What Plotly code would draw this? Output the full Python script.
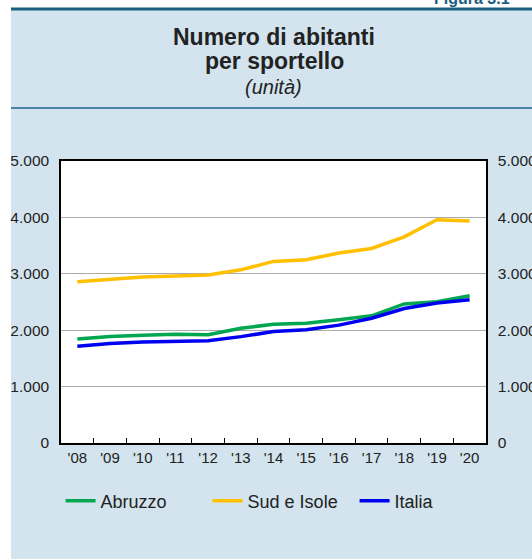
import plotly.graph_objects as go

# data
years = ["'08", "'09", "'10", "'11", "'12", "'13", "'14", "'15", "'16", "'17", "'18", "'19", "'20"]
abruzzo = [1845, 1890, 1910, 1930, 1918, 2035, 2105, 2125, 2185, 2255, 2465, 2505, 2610]
sud_isole = [2860, 2905, 2945, 2960, 2980, 3070, 3220, 3250, 3370, 3450, 3655, 3960, 3935]
italia = [1715, 1765, 1790, 1805, 1812, 1886, 1975, 2010, 2090, 2212, 2385, 2482, 2540]
y_ticks = [0, 1000, 2000, 3000, 4000, 5000]
y_labels = ["0", "1.000", "2.000", "3.000", "4.000", "5.000"]

W, H = 532, 559
L, R, T, B = 61, 486, 161, 443  # plot area in px
BG = "#D3E4EE"
FONT = "Arial, Liberation Sans, sans-serif"
TXT = "#222222"

def px_x(px):
    return (px - L) / (R - L)

def px_y(py):
    return (B - py) / (B - T)

fig = go.Figure()
series = [("Abruzzo", abruzzo, "#00A650"),
          ("Sud e Isole", sud_isole, "#FFC000"),
          ("Italia", italia, "#0000F0")]
for name, vals, col in series:
    fig.add_trace(go.Scatter(x=years, y=vals, name=name, mode="lines",
                             line=dict(color=col, width=3.5)))
# invisible trace for the right-hand axis
fig.add_trace(go.Scatter(x=years, y=italia, yaxis="y2", showlegend=False,
                         hoverinfo="skip", line=dict(width=0), mode="lines", opacity=0))

yax = dict(range=[0, 5000], tickvals=y_ticks, ticktext=y_labels, showgrid=True,
           gridcolor="#ABABAB", gridwidth=1, zeroline=False, showline=True,
           linecolor="black", linewidth=1.5, ticks="", ticklabelstandoff=7,
           automargin=False, tickfont=dict(family=FONT, size=15.5, color=TXT))

fig.update_layout(
    width=W, height=H,
    margin=dict(l=L, r=W - R, t=T, b=H - B, pad=0, autoexpand=False),
    paper_bgcolor=BG, plot_bgcolor="white",
    font=dict(family=FONT, color=TXT),
    xaxis=dict(type="category", range=[-0.5, 12.5], showline=True, linecolor="black",
               linewidth=1.5, mirror=True, ticks="inside", ticklen=5, tickcolor="black",
               tickson="boundaries", showgrid=False, ticklabelstandoff=0, automargin=False,
               tickfont=dict(family=FONT, size=15, color=TXT)),
    yaxis=dict(**yax, mirror=True),
    yaxis2=dict(**dict(yax, showgrid=False), overlaying="y", side="right"),
    showlegend=True,
    legend=dict(orientation="h", x=-0.001, xanchor="left", y=px_y(501), yanchor="middle",
                bgcolor="rgba(0,0,0,0)", font=dict(family=FONT, size=18, color=TXT),
                itemwidth=30, entrywidth=102, entrywidthmode="pixels"),
    shapes=[
        dict(type="rect", xref="paper", yref="paper", x0=px_x(-5), x1=px_x(11),
             y0=px_y(H + 5), y1=px_y(-5), fillcolor="white", line=dict(width=0), layer="below"),
        dict(type="rect", xref="paper", yref="paper", x0=px_x(-5), x1=px_x(W + 5),
             y0=px_y(9), y1=px_y(-5), fillcolor="white", line=dict(width=0), layer="below"),
        dict(type="line", xref="paper", yref="paper", x0=px_x(11), x1=px_x(W + 5),
             y0=px_y(9), y1=px_y(9), line=dict(color="#1B5E7E", width=3)),
        dict(type="line", xref="paper", yref="paper", x0=px_x(11), x1=px_x(W + 5),
             y0=px_y(108), y1=px_y(108), line=dict(color="#4A84A4", width=2)),
    ],
    annotations=[
        dict(text="<b>Numero di abitanti</b>", xref="paper", yref="paper",
             x=px_x(274), y=px_y(37), yanchor="middle", showarrow=False,
             font=dict(size=23, color=TXT)),
        dict(text="<b>per sportello</b>", xref="paper", yref="paper",
             x=px_x(274), y=px_y(61), yanchor="middle", showarrow=False,
             font=dict(size=23, color=TXT)),
        dict(text="<i>(unità)</i>", xref="paper", yref="paper",
             x=px_x(273), y=px_y(87), yanchor="middle", showarrow=False,
             font=dict(size=20, color=TXT)),
        dict(text="<b>Figura 3.1</b>", xref="paper", yref="paper", xanchor="left",
             x=px_x(432), y=px_y(-1), yanchor="middle", showarrow=False,
             font=dict(size=16, color="#1B5E7E")),
    ],
)

fig.write_html("out.html", config={"displayModeBar": False},
               post_script="document.body.style.margin='0';")
